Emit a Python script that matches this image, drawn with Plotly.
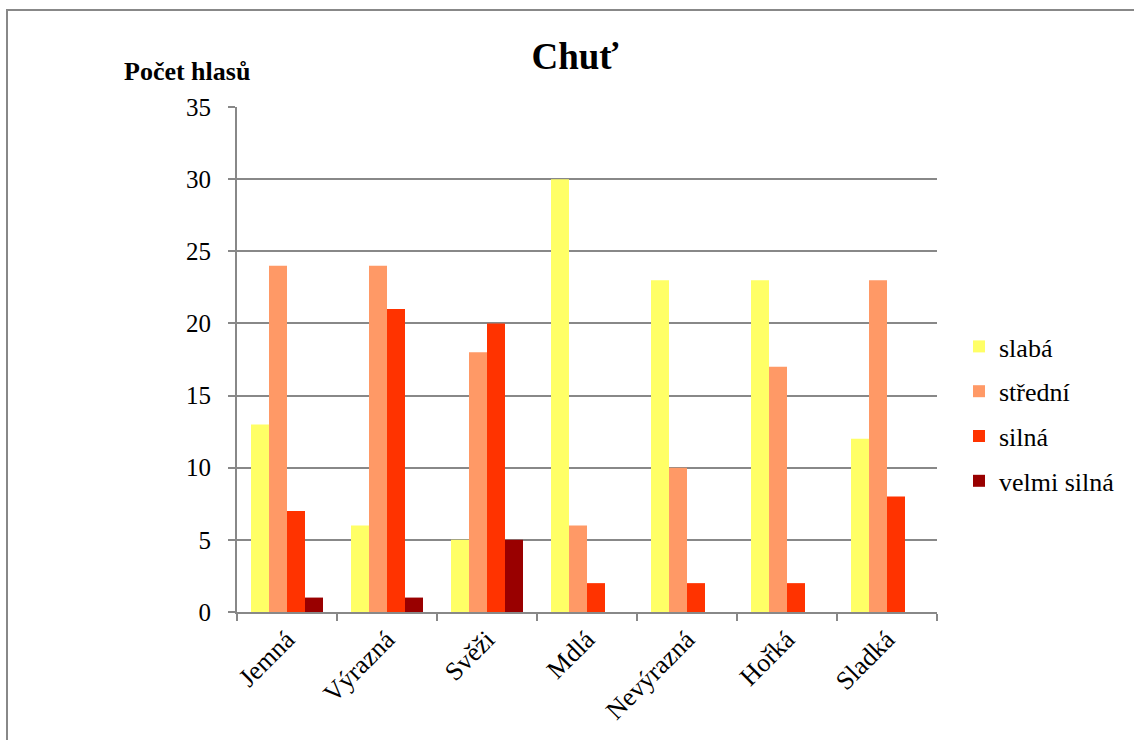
import plotly.graph_objects as go

categories = ["Jemná", "Výrazná", "Svěži", "Mdlá", "Nevýrazná", "Hořká", "Sladká"]
slaba = [13, 6, 5, 30, 23, 23, 12]
stredni = [24, 24, 18, 6, 10, 17, 23]
silna = [7, 21, 20, 2, 2, 2, 8]
velmi_silna = [1, 1, 5, 0, 0, 0, 0]

series = [
    ("slabá", slaba, "#FFFF66"),
    ("střední", stredni, "#FF9966"),
    ("silná", silna, "#FF3300"),
    ("velmi silná", velmi_silna, "#990000"),
]

FONT = "Liberation Serif"

fig = go.Figure()
for i, (name, vals, col) in enumerate(series):
    fig.add_trace(go.Bar(
        x=categories, y=vals, name=name,
        marker=dict(color=col, line=dict(width=0)),
        legendgroup=f"g{i}",
    ))

W, H = 1134, 740
L, R, T, B = 237, 1134 - 937, 107, 740 - 612
pw, ph = W - L - R, H - T - B

def px_x(x):
    return (x - L) / pw

def px_y(y):
    return (H - B - y) / ph

fig.update_layout(
    width=W, height=H,
    margin=dict(l=L, r=R, t=T, b=B, autoexpand=False),
    paper_bgcolor="white", plot_bgcolor="white",
    barmode="group", bargap=0.28, bargroupgap=0,
    font=dict(family=FONT, color="black", size=24),
    title=dict(text="<b>Chuť</b>", xref="container", x=575 / W, xanchor="center",
               y=1 - 56 / H, yanchor="middle",
               font=dict(family=FONT, size=37, color="black")),
    showlegend=True,
    legend=dict(x=px_x(959), xanchor="left", y=px_y(414), yanchor="middle",
                font=dict(family=FONT, size=26, color="black"),
                tracegroupgap=8, bgcolor="rgba(0,0,0,0)"),
    xaxis=dict(
        showline=True, linecolor="#888888", linewidth=2,
        ticks="outside", tickcolor="#888888", ticklen=7, tickwidth=2,
        tickson="boundaries", tickangle=-45,
        tickfont=dict(family=FONT, size=26, color="black"),
        showgrid=False,
    ),
    yaxis=dict(
        range=[0, 35], dtick=5, tick0=0,
        showline=True, linecolor="#888888", linewidth=2,
        ticks="outside", tickcolor="#888888", ticklen=7, tickwidth=2,
        ticklabelstandoff=12,
        showgrid=True, gridcolor="#888888", gridwidth=2,
        zeroline=False,
        tickfont=dict(family=FONT, size=25, color="black"),
    ),
    annotations=[dict(
        text="<b>Počet hlasů</b>", xref="paper", yref="paper",
        x=px_x(187), y=px_y(72), xanchor="center", yanchor="middle",
        showarrow=False, font=dict(family=FONT, size=26, color="black"),
    )],
    shapes=[dict(
        type="rect", xref="paper", yref="paper",
        x0=px_x(7), x1=px_x(1150), y0=px_y(760), y1=px_y(10),
        line=dict(color="#888888", width=2), fillcolor="rgba(0,0,0,0)",
        layer="below",
    )],
)

fig.write_html("out.html")
